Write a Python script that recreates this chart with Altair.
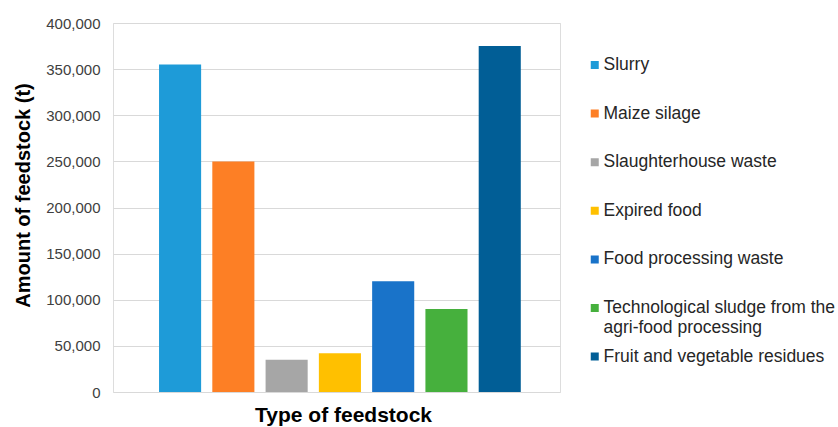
import altair as alt
import pandas as pd

categories = [
    "Slurry",
    "Maize silage",
    "Slaughterhouse waste",
    "Expired food",
    "Food processing waste",
    "Technological sludge from the agri-food processing",
    "Fruit and vegetable residues",
]
amounts = [355000, 250000, 35000, 42000, 120000, 90000, 375000]
colors = ["#1E9BD8", "#FD7F25", "#A6A6A6", "#FFC000", "#1973C9", "#46B03D", "#015E96"]
y_ticks = [0, 50000, 100000, 150000, 200000, 250000, 300000, 350000, 400000]

df = pd.DataFrame({"Type": categories, "Amount": amounts})

label_expr = (
    "datum.label == 'Technological sludge from the agri-food processing' ? "
    "['Technological sludge from the', 'agri-food processing'] : [datum.label, '']"
)

chart = (
    alt.Chart(df)
    .mark_bar()
    .encode(
        x=alt.X(
            "Type:N",
            sort=categories,
            scale=alt.Scale(paddingInner=0.21, paddingOuter=0.8, align=0.54),
            axis=alt.Axis(
                labels=False,
                ticks=False,
                domain=False,
                title="Type of feedstock",
                titleFont="Liberation Sans",
                titleFontSize=21,
                titleFontWeight="bold",
                titleColor="#000000",
                titleX=230,
                titleY=29,
                titleBaseline="alphabetic",
            ),
        ),
        y=alt.Y(
            "Amount:Q",
            scale=alt.Scale(domain=[0, 400000], nice=False),
            axis=alt.Axis(
                values=y_ticks,
                format=",.0f",
                ticks=False,
                domain=False,
                labelFont="Liberation Sans",
                labelFontSize=15,
                labelColor="#404040",
                labelPadding=13,
                gridColor="#d9d9d9",
                gridWidth=1,
                title="Amount of feedstock (t)",
                titleFont="Liberation Sans",
                titleFontSize=20,
                titleFontWeight="bold",
                titleColor="#000000",
                titleX=-84,
                titleY=172,
                titleBaseline="alphabetic",
                titleAngle=-90,
            ),
        ),
        color=alt.Color(
            "Type:N",
            sort=categories,
            scale=alt.Scale(domain=categories, range=colors),
            legend=alt.Legend(
                title=None,
                orient="none",
                legendX=473,
                legendY=32,
                padding=0,
                symbolType="square",
                symbolSize=64,
                symbolStrokeWidth=0,
                symbolOpacity=1,
                labelFont="Liberation Sans",
                labelFontSize=17.5,
                labelColor="#262626",
                labelOffset=0,
                labelLimit=400,
                labelExpr=label_expr,
                clipHeight=20,
                rowPadding=10.6,
            ),
        ),
    )
    .properties(
        width=447,
        height=369,
        autosize=alt.AutoSizeParams(type="none"),
        padding={"left": 113, "top": 23, "right": 278, "bottom": 35},
    )
    .configure_view(stroke="#b3b3b3", strokeWidth=1)
    .configure(background="white")
)

chart.save("out.html", embed_options={"renderer": "svg", "actions": False})
